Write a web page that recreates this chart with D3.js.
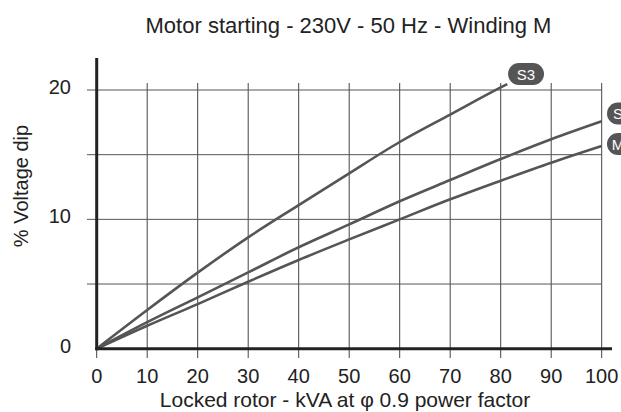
<!DOCTYPE html>
<html>
<head>
<meta charset="utf-8">
<script src="https://cdn.jsdelivr.net/npm/d3@7"></script>
<style>
  html,body{margin:0;padding:0;background:#fff}
  svg{display:block}
  text{font-family:"Liberation Sans",Arial,sans-serif;fill:#222}
</style>
</head>
<body>
<div id="chart"></div>
<script>
// data
const kva   = [0, 10, 20, 30, 40, 50, 60, 70, 80, 90, 100];
const windS  = [0, 2.05, 3.97, 5.9, 7.84, 9.61, 11.4, 13.04, 14.66, 16.19, 17.58];
const windM  = [0, 1.77, 3.45, 5.18, 6.86, 8.45, 10.0, 11.55, 12.99, 14.38, 15.67];
const kvaS3  = [0, 10, 20, 30, 40, 50, 60, 70, 80, 81.3];
const windS3 = [0, 2.99, 5.88, 8.61, 11.1, 13.56, 15.98, 18.1, 20.2, 20.46];
const xTicks = [0, 10, 20, 30, 40, 50, 60, 70, 80, 90, 100];
const yGrid  = [5, 10, 15, 20];
const yLabels = [0, 10, 20];

const W = 621, H = 412;
const svg = d3.select('#chart').append('svg').attr('width', W).attr('height', H);

const x = d3.scaleLinear().domain([0, 100]).range([96.7, 601.7]);
const y = d3.scaleLinear().domain([0, 20]).range([348.7, 90]);

// grid
svg.append('g').selectAll('line').data(xTicks.slice(1)).join('line')
  .attr('x1', d => x(d)).attr('x2', d => x(d))
  .attr('y1', 83).attr('y2', 358)
  .attr('stroke', '#444').attr('stroke-width', 1);
svg.append('g').selectAll('line').data(yGrid).join('line')
  .attr('x1', 87).attr('x2', x(100))
  .attr('y1', d => y(d)).attr('y2', d => y(d))
  .attr('stroke', '#555').attr('stroke-width', 1);
// x tick at 0
svg.append('line').attr('x1', x(0)).attr('x2', x(0)).attr('y1', y(0)).attr('y2', 358)
  .attr('stroke', '#444');

// curves
const line = d3.line().curve(d3.curveMonotoneX);
const series = [
  {xs: kvaS3, ys: windS3},
  {xs: kva, ys: windS},
  {xs: kva, ys: windM},
];
series.forEach(s => {
  svg.append('path')
    .attr('d', line(s.xs.map((v, i) => [x(v), y(s.ys[i])])))
    .attr('fill', 'none').attr('stroke', '#555').attr('stroke-width', 2.6)
    .attr('stroke-linecap', 'butt');
});

// axes
svg.append('line').attr('x1', x(0)).attr('x2', x(0)).attr('y1', 58).attr('y2', y(0) + 1.5)
  .attr('stroke', '#222').attr('stroke-width', 3);
svg.append('line').attr('x1', x(0) - 1.5).attr('x2', 612).attr('y1', y(0)).attr('y2', y(0))
  .attr('stroke', '#222').attr('stroke-width', 3);

// tick labels
svg.append('g').selectAll('text').data(xTicks).join('text')
  .attr('x', d => x(d)).attr('y', 383)
  .attr('text-anchor', 'middle').attr('font-size', '20px').text(d => d);
svg.append('g').selectAll('text').data(yLabels).join('text')
  .attr('x', 71).attr('y', d => y(d) + 4)
  .attr('text-anchor', 'end').attr('font-size', '20px').text(d => d);

// titles
svg.append('text').attr('x', 348.5).attr('y', 33)
  .attr('text-anchor', 'middle').attr('font-size', '22px')
  .text('Motor starting - 230V - 50 Hz - Winding M');
svg.append('text').attr('x', 345).attr('y', 407)
  .attr('text-anchor', 'middle').attr('font-size', '21px')
  .text('Locked rotor - kVA at φ 0.9 power factor');
svg.append('text').attr('transform', 'translate(28,186) rotate(-90)')
  .attr('text-anchor', 'middle').attr('font-size', '20px')
  .text('% Voltage dip');

// series badges (the S and M ones run off the right edge, as in the original)
const badges = [
  {t: 'S3', cx: 526, cy: 74, w: 36, tx: 526},
  {t: 'S', cx: 621, cy: 113.5, w: 28, tx: 618},
  {t: 'M', cx: 621, cy: 144, w: 28, tx: 618},
];
badges.forEach(b => {
  svg.append('rect').attr('x', b.cx - b.w / 2).attr('y', b.cy - 11)
    .attr('width', b.w).attr('height', 22).attr('rx', 11)
    .attr('fill', '#555');
  svg.append('text').attr('x', b.tx).attr('y', b.cy + 5.5)
    .attr('text-anchor', 'middle').attr('font-size', '15px')
    .style('fill', '#fff').text(b.t);
});
</script>
</body>
</html>
